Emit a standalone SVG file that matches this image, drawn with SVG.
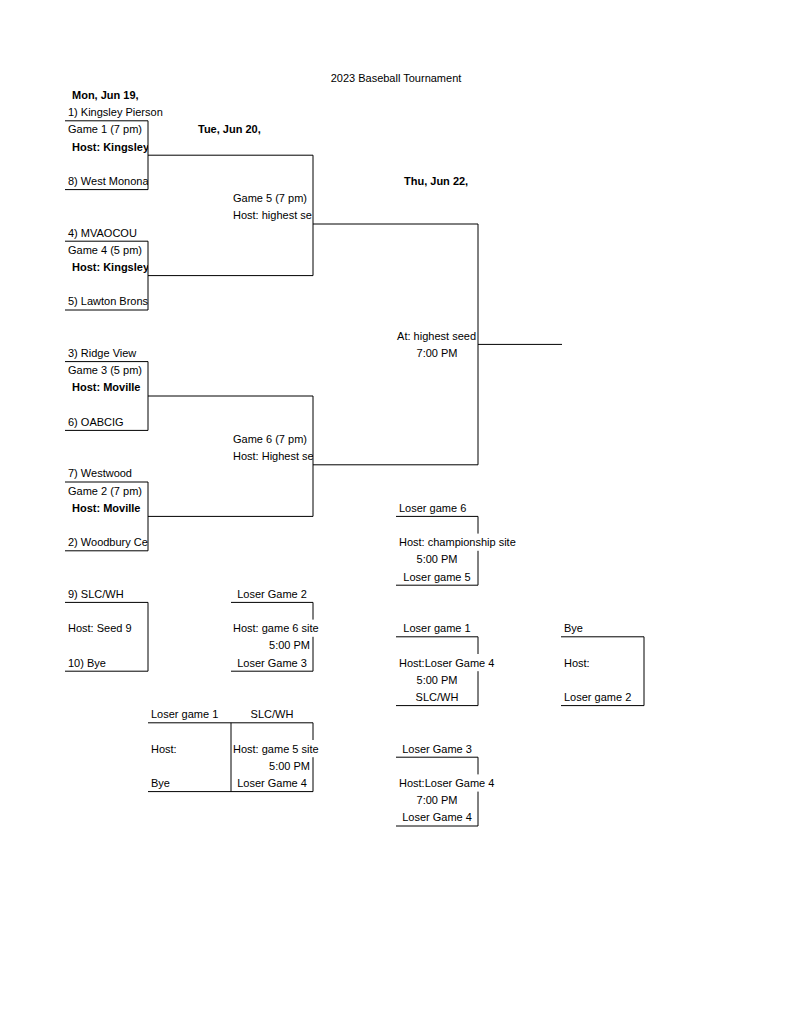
<svg xmlns="http://www.w3.org/2000/svg" width="791" height="1024" viewBox="0 0 791 1024">
<style>
text{font-family:"Liberation Sans",Arial,Helvetica,sans-serif;font-size:11px;fill:#000}
.b{font-weight:bold}
.m{text-anchor:middle}
.e{text-anchor:end}
#connectors line{stroke:#000;stroke-width:1}
</style>
<defs>
<clipPath id="cA"><rect x="60" y="0" width="88" height="1024"/></clipPath>
<clipPath id="cC"><rect x="228" y="0" width="85" height="1024"/></clipPath>
</defs>
<rect width="791" height="1024" fill="#fff"/>
<g id="title"><text class="m" x="396" y="81.8">2023 Baseball Tournament</text></g>
<g id="days">
<text class="b" x="72" y="99">Mon, Jun 19,</text>
<text class="b" x="198" y="133.4">Tue, Jun 20,</text>
<text class="b" x="404" y="185">Thu, Jun 22,</text>
</g>
<g id="game1">
<text x="68" y="116.2">1) Kingsley Pierson</text>
<g clip-path="url(#cA)">
<text x="68" y="133.4">Game 1 (7 pm)</text>
<text class="b" x="72" y="150.6">Host: Kingsley</text>
<text x="68" y="185">8) West Monona</text>
</g>
</g>
<g id="game4" clip-path="url(#cA)">
<text x="68" y="236.6">4) MVAOCOU</text>
<text x="68" y="253.8">Game 4 (5 pm)</text>
<text class="b" x="72" y="271">Host: Kingsley</text>
<text x="68" y="305.4">5) Lawton Brons</text>
</g>
<g id="game3" clip-path="url(#cA)">
<text x="68" y="357">3) Ridge View</text>
<text x="68" y="374.2">Game 3 (5 pm)</text>
<text class="b" x="72" y="391.4">Host: Moville</text>
<text x="68" y="425.8">6) OABCIG</text>
</g>
<g id="game2" clip-path="url(#cA)">
<text x="68" y="477.4">7) Westwood</text>
<text x="68" y="494.6">Game 2 (7 pm)</text>
<text class="b" x="72" y="511.8">Host: Moville</text>
<text x="68" y="546.2">2) Woodbury Ce</text>
</g>
<g id="game5" clip-path="url(#cC)">
<text x="233" y="202.2">Game 5 (7 pm)</text>
<text x="233" y="219.4">Host: highest se</text>
</g>
<g id="game6" clip-path="url(#cC)">
<text x="233" y="443">Game 6 (7 pm)</text>
<text x="233" y="460.2">Host: Highest se</text>
</g>
<g id="final">
<text class="e" x="476" y="339.8">At: highest seed</text>
<text class="m" x="437" y="357">7:00 PM</text>
</g>
<g id="consolation-final">
<text x="399" y="511.8">Loser game 6</text>
<text x="399" y="546.2">Host: championship site</text>
<text class="m" x="437" y="563.4">5:00 PM</text>
<text class="m" x="437" y="580.6">Loser game 5</text>
</g>
<g id="play-in">
<text x="68" y="597.8">9) SLC/WH</text>
<text x="68" y="632.2">Host: Seed 9</text>
<text x="68" y="666.6">10) Bye</text>
</g>
<g id="loser-g2-g3">
<text class="m" x="272" y="597.8">Loser Game 2</text>
<text x="233" y="632.2">Host: game 6 site</text>
<text class="e" x="310" y="649.4">5:00 PM</text>
<text class="m" x="272" y="666.6">Loser Game 3</text>
</g>
<g id="loser-g1-slc">
<text class="m" x="437" y="632.2">Loser game 1</text>
<text x="399" y="666.6">Host:Loser Game 4</text>
<text class="m" x="437" y="683.8">5:00 PM</text>
<text class="m" x="437" y="701">SLC/WH</text>
</g>
<g id="bye-loser-g2">
<text x="564" y="632.2">Bye</text>
<text x="564" y="666.6">Host:</text>
<text x="564" y="701">Loser game 2</text>
</g>
<g id="loser-g1-bye">
<text x="151" y="718.2">Loser game 1</text>
<text x="151" y="752.6">Host:</text>
<text x="151" y="787">Bye</text>
</g>
<g id="slc-loser-g4">
<text class="m" x="272" y="718.2">SLC/WH</text>
<text x="233" y="752.6">Host: game 5 site</text>
<text class="e" x="310" y="769.8">5:00 PM</text>
<text class="m" x="272" y="787">Loser Game 4</text>
</g>
<g id="loser-g3-g4">
<text class="m" x="437" y="752.6">Loser Game 3</text>
<text x="399" y="787">Host:Loser Game 4</text>
<text class="m" x="437" y="804.2">7:00 PM</text>
<text class="m" x="437" y="821.4">Loser Game 4</text>
</g>
<g id="connectors">
<line x1="65" y1="120.8" x2="148" y2="120.8"/>
<line x1="148" y1="120.8" x2="148" y2="189.6"/>
<line x1="65" y1="189.6" x2="148" y2="189.6"/>
<line x1="148" y1="155.2" x2="313" y2="155.2"/>
<line x1="65" y1="241.2" x2="148" y2="241.2"/>
<line x1="148" y1="241.2" x2="148" y2="310"/>
<line x1="65" y1="310" x2="148" y2="310"/>
<line x1="148" y1="275.6" x2="313" y2="275.6"/>
<line x1="313" y1="155.2" x2="313" y2="275.6"/>
<line x1="313" y1="224" x2="478" y2="224"/>
<line x1="65" y1="361.6" x2="148" y2="361.6"/>
<line x1="148" y1="361.6" x2="148" y2="430.4"/>
<line x1="65" y1="430.4" x2="148" y2="430.4"/>
<line x1="148" y1="396" x2="313" y2="396"/>
<line x1="65" y1="482" x2="148" y2="482"/>
<line x1="148" y1="482" x2="148" y2="550.8"/>
<line x1="65" y1="550.8" x2="148" y2="550.8"/>
<line x1="148" y1="516.4" x2="313" y2="516.4"/>
<line x1="313" y1="396" x2="313" y2="516.4"/>
<line x1="313" y1="464.8" x2="478" y2="464.8"/>
<line x1="478" y1="224" x2="478" y2="464.8"/>
<line x1="478" y1="344.4" x2="562" y2="344.4"/>
<line x1="396" y1="516.4" x2="478" y2="516.4"/>
<line x1="478" y1="516.4" x2="478" y2="533.6"/>
<line x1="478" y1="550.8" x2="478" y2="585.2"/>
<line x1="396" y1="585.2" x2="478" y2="585.2"/>
<line x1="65" y1="602.4" x2="148" y2="602.4"/>
<line x1="148" y1="602.4" x2="148" y2="671.2"/>
<line x1="65" y1="671.2" x2="148" y2="671.2"/>
<line x1="231" y1="602.4" x2="313" y2="602.4"/>
<line x1="313" y1="602.4" x2="313" y2="619.6"/>
<line x1="313" y1="636.8" x2="313" y2="671.2"/>
<line x1="231" y1="671.2" x2="313" y2="671.2"/>
<line x1="396" y1="636.8" x2="478" y2="636.8"/>
<line x1="478" y1="636.8" x2="478" y2="654"/>
<line x1="478" y1="671.2" x2="478" y2="705.6"/>
<line x1="396" y1="705.6" x2="478" y2="705.6"/>
<line x1="561" y1="636.8" x2="644" y2="636.8"/>
<line x1="644" y1="636.8" x2="644" y2="705.6"/>
<line x1="561" y1="705.6" x2="644" y2="705.6"/>
<line x1="148" y1="722.8" x2="313" y2="722.8"/>
<line x1="231" y1="722.8" x2="231" y2="791.6"/>
<line x1="313" y1="722.8" x2="313" y2="740"/>
<line x1="313" y1="757.2" x2="313" y2="791.6"/>
<line x1="148" y1="791.6" x2="313" y2="791.6"/>
<line x1="396" y1="757.2" x2="478" y2="757.2"/>
<line x1="478" y1="757.2" x2="478" y2="774.4"/>
<line x1="478" y1="791.6" x2="478" y2="826"/>
<line x1="396" y1="826" x2="478" y2="826"/>
</g>
</svg>
